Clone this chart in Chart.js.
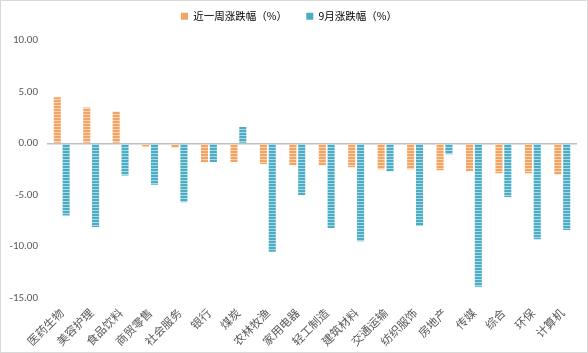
<!DOCTYPE html>
<html>
<head>
<meta charset="utf-8">
<script src="https://cdn.jsdelivr.net/npm/chart.js@4"></script>
<style>
    html, body { margin: 0; padding: 0; background: #fff; }
    #wrap { position: relative; width: 586px; height: 351px; border: 1px solid #d9d9d9; }
</style>
</head>
<body>
<div id="wrap"><canvas id="grafico"></canvas></div>
<script>
const categorias = ['医药生物','美容护理','食品饮料','商贸零售','社会服务','银行','煤炭','农林牧渔','家用电器',
    '轻工制造','建筑材料','交通运输','纺织服饰','房地产','传媒','综合','环保','计算机'];
const semana = [4.5, 3.5, 3.1, -0.3, -0.4, -1.8, -1.8, -2.0, -2.1, -2.1, -2.3, -2.5, -2.5, -2.6, -2.7, -2.9, -2.9, -3.0];
const septiembre = [-7.0, -8.1, -3.1, -4.0, -5.7, -1.8, 1.6, -10.5, -5.0, -8.2, -9.5, -2.7, -8.0, -1.05, -13.9, -5.2, -9.3, -8.4];
const ticksY = [10, 5, 0, -5, -10, -15];

// rayado horizontal tipo Excel
function rayado(color) {
    const c = document.createElement('canvas');
    c.width = 4; c.height = 3;
    const g = c.getContext('2d');
    g.fillStyle = color;
    g.fillRect(0, 0, 4, 3);
    g.fillStyle = 'rgba(255,255,255,0.55)';
    g.fillRect(0, 2, 4, 1);
    return g.createPattern(c, 'repeat');
}

const naranja = '#F4A460';
const azul = '#4BACC6';

// separación extra entre leyenda y área del gráfico
const margenLeyenda = {
    id: 'margenLeyenda',
    beforeInit(chart) {
        const fitOriginal = chart.legend.fit;
        chart.legend.fit = function () {
            fitOriginal.bind(chart.legend)();
            this.height += 9;
        };
    }
};

new Chart(document.getElementById('grafico'), {
    type: 'bar',
    data: {
        labels: categorias,
        datasets: [
            { label: '近一周涨跌幅（%）', data: semana, backgroundColor: rayado(naranja), borderWidth: 0 },
            { label: '9月涨跌幅（%）', data: septiembre, backgroundColor: rayado(azul), borderWidth: 0 }
        ]
    },
    plugins: [margenLeyenda],
    options: {
        responsive: true,
        maintainAspectRatio: false,
        animation: false,
        datasets: { bar: { categoryPercentage: 0.6, barPercentage: 0.8 } },
        layout: { padding: { top: 0, right: 10, left: 0, bottom: 0 } },
        plugins: {
            legend: {
                position: 'top',
                labels: {
                    boxWidth: 7, boxHeight: 7,
                    color: '#595959',
                    font: { family: '"Noto Sans CJK SC", sans-serif', size: 10.5 },
                    padding: 10,
                    generateLabels: chart => chart.data.datasets.map((d, i) => ({
                        text: i === 0 ? d.label + '    ' : d.label,
                        fillStyle: i === 0 ? naranja : azul,
                        strokeStyle: 'transparent',
                        lineWidth: 0,
                        datasetIndex: i
                    }))
                }
            },
            tooltip: { enabled: false }
        },
        scales: {
            x: {
                grid: { display: false },
                border: { display: false },
                ticks: {
                    color: '#595959',
                    minRotation: 45, maxRotation: 45,
                    padding: 0,
                    font: { family: '"Noto Sans CJK SC", serif', size: 11.5 }
                },
                afterFit: s => { s.height = 54; }
            },
            y: {
                min: -15, max: 10,
                afterBuildTicks: s => { s.ticks = ticksY.map(v => ({ value: v })); },
                grid: {
                    drawTicks: false,
                    color: ctx => ctx.tick && ctx.tick.value === 0 ? '#bfbfbf' : 'transparent',
                    lineWidth: 1.5
                },
                border: { display: false },
                ticks: {
                    color: '#595959',
                    padding: 9,
                    font: { family: 'Calibri, "Liberation Sans", sans-serif', size: 11 },
                    callback: v => v.toFixed(2)
                },
                afterFit: s => { s.width = 46; }
            }
        }
    }
});
</script>
</body>
</html>
